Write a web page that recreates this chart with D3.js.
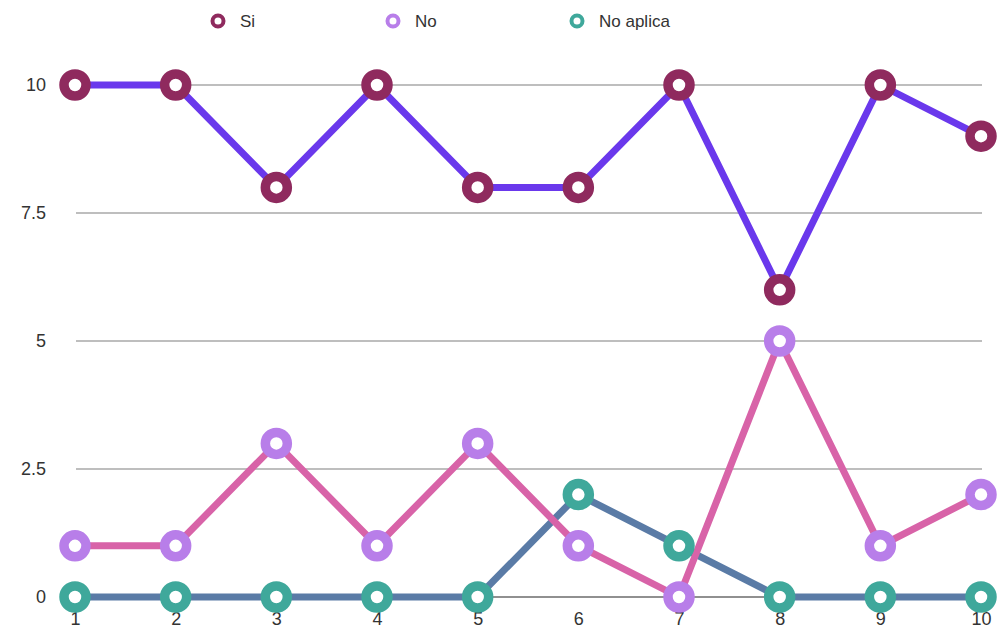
<!DOCTYPE html>
<html>
<head>
<meta charset="utf-8">
<script src="https://cdn.jsdelivr.net/npm/d3@7"></script>
<style>
  html, body { margin: 0; padding: 0; background: #fff; }
  svg { display: block; font-family: "Liberation Sans", Arial, Helvetica, sans-serif; }
</style>
</head>
<body>
<svg id="chart" width="999" height="630"></svg>
<script>
// Questions 1–10 and the number of answers of each kind
const categories = [1, 2, 3, 4, 5, 6, 7, 8, 9, 10];
const si       = [10, 10, 8, 10, 8, 8, 10, 6, 10, 9];
const no       = [1, 1, 3, 1, 3, 1, 0, 5, 1, 2];
const noAplica = [0, 0, 0, 0, 0, 2, 1, 0, 0, 0];
const yTicks = [0, 2.5, 5, 7.5, 10];
const seriesNames = ["Si", "No", "No aplica"];

const series = [
  { name: seriesNames[0], values: si,       line: "#6a38ec", marker: "#8f2a5e" },
  { name: seriesNames[1], values: no,       line: "#d863a8", marker: "#b87ee9" },
  { name: seriesNames[2], values: noAplica, line: "#5a7ba6", marker: "#3fa89b" }
];

const svg = d3.select("#chart");
const x = d3.scalePoint().domain(categories).range([75, 981]);
const y = d3.scaleLinear().domain([0, 10]).range([597, 85]);

// Horizontal grid lines
svg.append("g")
  .selectAll("line")
  .data(yTicks.filter(d => d > 0))
  .join("line")
  .attr("x1", 76).attr("x2", 982)
  .attr("y1", d => y(d)).attr("y2", d => y(d))
  .attr("stroke", "#a9a9a9").attr("stroke-width", 1.5);

// Baseline
svg.append("line")
  .attr("x1", 76).attr("x2", 982)
  .attr("y1", y(0)).attr("y2", y(0))
  .attr("stroke", "#222").attr("stroke-width", 1.2);

// Y axis labels
const yAxis = d3.axisLeft(y).tickValues(yTicks).tickSize(0).tickPadding(0)
  .tickFormat(d => d3.format("~g")(d));
svg.append("g")
  .attr("transform", "translate(46,0)")
  .call(yAxis)
  .call(g => g.select(".domain").remove())
  .call(g => g.selectAll("text")
    .attr("font-size", 18).attr("fill", "#333")
    .attr("font-family", "'Liberation Sans', Arial, sans-serif"));

// X axis labels
const xAxis = d3.axisBottom(x).tickSize(0).tickPadding(0);
svg.append("g")
  .attr("transform", `translate(0,${y(0) + 15})`)
  .call(xAxis)
  .call(g => g.select(".domain").remove())
  .call(g => g.selectAll("text")
    .attr("font-size", 18).attr("fill", "#333")
    .attr("font-family", "'Liberation Sans', Arial, sans-serif"));

// Lines (drawn bottom series first)
const line = d3.line().x((d, i) => x(categories[i])).y(d => y(d));
svg.append("g")
  .selectAll("path")
  .data(series.slice().reverse())
  .join("path")
  .attr("d", s => line(s.values))
  .attr("fill", "none")
  .attr("stroke", s => s.line)
  .attr("stroke-width", 7)
  .attr("stroke-linejoin", "round");

// Ring markers
series.slice().reverse().forEach(s => {
  svg.append("g")
    .selectAll("circle")
    .data(s.values)
    .join("circle")
    .attr("cx", (d, i) => x(categories[i]))
    .attr("cy", d => y(d))
    .attr("r", 11)
    .attr("fill", "#fff")
    .attr("stroke", s.marker)
    .attr("stroke-width", 9.5);
});

// Legend
const legendX = [218, 393, 577];
const legend = svg.append("g")
  .selectAll("g")
  .data(series)
  .join("g")
  .attr("transform", (d, i) => `translate(${legendX[i]},21)`);
legend.append("circle")
  .attr("r", 5.5)
  .attr("fill", "#fff")
  .attr("stroke", d => d.marker)
  .attr("stroke-width", 4);
legend.append("text")
  .attr("x", 22).attr("y", 6)
  .attr("font-size", 17).attr("fill", "#333")
  .text(d => d.name);
</script>
</body>
</html>
